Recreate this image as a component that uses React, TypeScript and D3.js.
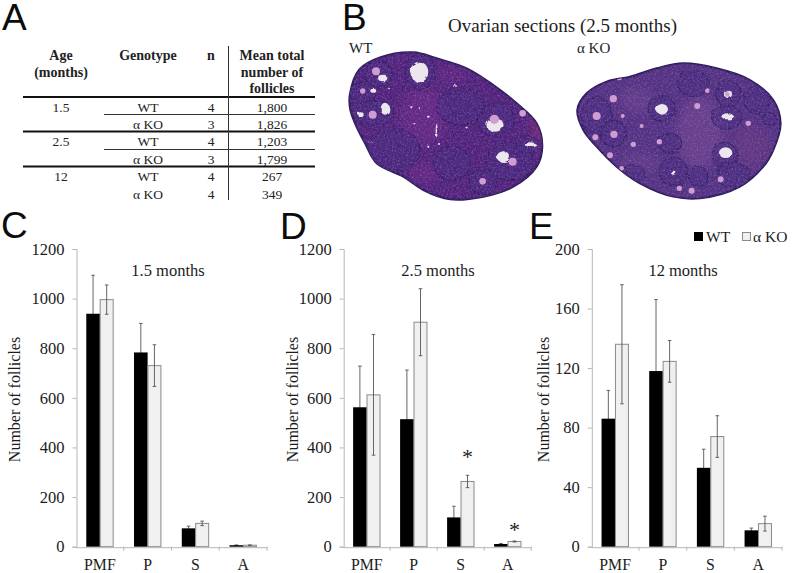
import React, { useEffect, useRef } from "react";
import * as d3 from "d3";

const categories = ["PMF", "P", "S", "A"];
const seriesNames = ["WT", "α KO"];
const wt15 = [939, 783, 74, 6];
const wt15Err = [155, 117, 9, 1];
const ko15 = [996, 730, 94, 6];
const ko15Err = [59, 84, 9, 1];
const wt25 = [562, 514, 118, 11];
const wt25Err = [166, 198, 45, 2];
const ko25 = [612, 905, 263, 21];
const ko25Err = [243, 135, 25, 2];
const wt12 = [86, 118, 53, 11];
const wt12Err = [19, 48, 12.5, 1.5];
const ko12 = [136, 124.5, 74, 15.5];
const ko12Err = [40, 14, 14, 5];
const ticks1200 = [0, 200, 400, 600, 800, 1000, 1200];
const ticks200 = [0, 40, 80, 120, 160, 200];

const tableRows = [
  ["1.5", "WT", "4", "1,800"],
  ["", "α KO", "3", "1,826"],
  ["2.5", "WT", "4", "1,203"],
  ["", "α KO", "3", "1,799"],
  ["12", "WT", "4", "267"],
  ["", "α KO", "4", "349"],
];

// Histology illustration: outlines and features, in a 3x working grid
const wtOutline: [number, number][] = [[30, 280], [58, 208], [120, 172], [220, 157], [290, 175], [380, 205], [460, 255], [530, 310], [590, 370], [607, 440], [590, 500], [520, 560], [430, 590], [330, 598], [250, 570], [190, 530], [110, 490], [75, 430], [45, 370], [30, 325]];
const koOutline: [number, number][] = [[712, 330], [740, 280], [800, 245], [870, 230], [950, 205], [1030, 190], [1130, 205], [1230, 240], [1300, 300], [1322, 370], [1300, 450], [1270, 500], [1200, 560], [1080, 595], [1000, 590], [900, 550], [830, 500], [770, 440], [730, 390]];
const stromaPatches: [number, number, number, number, string][] = [
  [250, 350, 70, 90, "#7a2a8c"], [590, 400, 18, 60, "#9a2a70"], [250, 520, 45, 30, "#7a2a8c"], [330, 225, 50, 25, "#6f2a88"],
  [1080, 400, 70, 110, "#7f5095"], [890, 300, 50, 40, "#75488f"], [1230, 440, 60, 60, "#6f3a80"], [900, 490, 60, 30, "#70468f"],
];
const darkFollicles: [number, number, number, number][] = [
  [240, 215, 45, 52], [115, 222, 42, 36], [70, 280, 40, 34], [100, 340, 60, 38], [468, 360, 55, 50], [510, 485, 70, 55], [430, 545, 42, 38], [335, 490, 55, 50], [160, 450, 80, 65], [360, 320, 70, 55], [565, 435, 38, 25],
  [1165, 282, 38, 38], [1250, 300, 38, 42], [1160, 352, 45, 35], [965, 325, 40, 38], [770, 350, 45, 60], [820, 400, 40, 40], [1155, 465, 38, 38], [1000, 515, 42, 42], [1075, 530, 28, 30], [1180, 525, 50, 38], [1060, 250, 45, 40], [1290, 358, 20, 20], [990, 430, 35, 30], [880, 520, 35, 25],
];
const whiteAntra: [number, number, number, number][] = [
  [238, 216, 27, 31], [128, 234, 14, 10], [135, 326, 13, 18], [62, 344, 9, 7], [100, 272, 9, 6], [465, 375, 26, 20], [490, 470, 20, 16], [570, 433, 18, 6], [290, 392, 3, 20], [265, 350, 4, 3], [240, 325, 3, 3], [215, 322, 4, 3], [265, 440, 3, 3], [340, 437, 3, 2], [220, 368, 3, 2], [380, 382, 4, 2], [300, 435, 3, 3], [90, 425, 5, 2], [150, 268, 3, 2], [345, 258, 7, 2],
  [966, 328, 18, 16], [1163, 349, 18, 9], [1157, 458, 20, 16], [1164, 282, 12, 12], [1000, 518, 8, 6],
];
const pinkOocytes: [number, number, number][] = [
  [108, 214, 12], [98, 344, 12], [463, 358, 14], [518, 485, 12], [428, 544, 10], [548, 340, 10], [68, 273, 8],
  [770, 348, 12], [820, 296, 11], [822, 403, 11], [766, 412, 9], [810, 466, 9], [838, 232, 9], [1072, 318, 9], [958, 425, 8], [1142, 538, 9], [1055, 572, 9], [1018, 565, 8], [1225, 370, 8], [1162, 283, 7], [905, 378, 6], [848, 348, 6], [845, 505, 7], [1102, 272, 7], [880, 433, 8],
];

const w = 797, h = 573;
const serif = "'Liberation Serif', serif";
const sans = "'Liberation Sans', sans-serif";
const AXIS = "#b5b5b5";
const TXT = "#1c1c1c";

function Axes({ x, y, ticks }: any) {
  const yRef = useRef<SVGGElement>(null);
  const xRef = useRef<SVGGElement>(null);
  useEffect(() => {
    const sy = d3.select(yRef.current!);
    sy.call(d3.axisLeft(y).tickValues(ticks).tickSize(4).tickPadding(8).tickFormat(d3.format("d")) as any);
    sy.select(".domain").attr("stroke", AXIS);
    sy.selectAll(".tick line").attr("stroke", AXIS);
    sy.selectAll("text").attr("font-family", serif).attr("font-size", 16.5).attr("fill", TXT);
    const sx = d3.select(xRef.current!);
    sx.call(d3.axisBottom(x).tickSize(0).tickPadding(12) as any);
    sx.select(".domain").attr("stroke", AXIS);
    sx.selectAll("text").attr("font-family", serif).attr("font-size", 15.8).attr("fill", TXT);
  }, []);
  const [x0] = x.range();
  return (
    <g>
      <g ref={yRef} transform={`translate(${x0 + 0.5},0)`} />
      <g ref={xRef} transform={`translate(0,${y(0) + 0.5})`} />
      {categories.map((c, i) => {
        const px = x0 + x.step() * (i + 1);
        return <line key={c} x1={px} x2={px} y1={y(0)} y2={y(0) + 4} stroke={AXIS} />;
      })}
    </g>
  );
}

function Panel({ left, right, max, ticks, wt, wtErr, ko, koErr, title, titleX, yLabelX, stars }: any) {
  const x = d3.scaleBand().domain(categories).range([left, right]).paddingInner(0).paddingOuter(0);
  const y = d3.scaleLinear().domain([0, max]).range([546.7, 249]);
  const barW = 13.6;
  const bars = categories.map((c: string, i: number) => {
    const cx = x(c)! + x.bandwidth() / 2;
    return { c, cx, i };
  });
  const err = (cx: number, v: number, e: number, k: string) => (
    <g key={k} stroke="#555" strokeWidth={0.9}>
      <line x1={cx} x2={cx} y1={y(v + e)} y2={y(Math.max(0, v - e))} />
      <line x1={cx - 1.8} x2={cx + 1.8} y1={y(v + e)} y2={y(v + e)} />
      <line x1={cx - 1.8} x2={cx + 1.8} y1={y(Math.max(0, v - e))} y2={y(Math.max(0, v - e))} />
    </g>
  );
  return (
    <g>
      {bars.map(({ c, cx, i }: any) => (
        <g key={c}>
          {err(cx - barW / 2, wt[i], wtErr[i], c + "w")}
          <rect x={cx - barW} y={y(wt[i])} width={barW} height={y(0) - y(wt[i])} fill="#000" />
          <rect x={cx + 0.3} y={y(ko[i])} width={barW - 0.6} height={y(0) - y(ko[i])} fill="#f0f0f0" stroke="#8a8a8a" strokeWidth={1} />
          {err(cx + barW / 2, ko[i], koErr[i], c + "k")}
        </g>
      ))}
      <Axes x={x} y={y} ticks={ticks} />
      <text x={titleX} y={276} textAnchor="middle" fontFamily={serif} fontSize={16.5} fill={TXT}>{title}</text>
      <text transform={`translate(${yLabelX},399.5) rotate(-90)`} textAnchor="middle" fontFamily={serif} fontSize={16} fill={TXT}>Number of follicles</text>
      {(stars || []).map((s: any) => (
        <text key={s.c} x={x(s.c)! + x.bandwidth() / 2 + barW / 2} y={y(s.v)} textAnchor="middle" fontFamily={serif} fontSize={22} fill={TXT}>*</text>
      ))}
    </g>
  );
}

function Section({ outline, fill, id }: any) {
  const path = d3.line().curve(d3.curveCatmullRomClosed.alpha(0.5))(outline)!;
  return (
    <g>
      <clipPath id={id}><path d={path} /></clipPath>
      <path d={path} fill={fill} stroke="#2e1c5c" strokeWidth={6} />
      <g clipPath={`url(#${id})`}>
        <g filter="url(#soft)" opacity={0.5}>
          {stromaPatches.map(([cx, cy, rx, ry, c], i) => (
            <ellipse key={i} cx={cx} cy={cy} rx={rx} ry={ry} fill={c} />
          ))}
        </g>
        <g filter="url(#rough)">
          {darkFollicles.map(([cx, cy, rx, ry], i) => (
            <ellipse key={i} cx={cx} cy={cy} rx={rx} ry={ry} fill="#43287c90" stroke="#2e1c5c" strokeWidth={4} strokeOpacity={0.75} />
          ))}
        </g>
        <rect x={0} y={100} width={1400} height={520} filter="url(#grain)" opacity={0.5} />
        <rect x={0} y={100} width={1400} height={520} filter="url(#grainLight)" opacity={0.25} />
        <g filter="url(#rough)">
          {whiteAntra.map(([cx, cy, rx, ry], i) => (
            <ellipse key={i} cx={cx} cy={cy} rx={rx} ry={ry} fill="#ebe7ec" />
          ))}
        </g>
        {pinkOocytes.map(([cx, cy, r], i) => (
          <circle key={i} cx={cx} cy={cy} r={r} fill="#cf9dd2" />
        ))}
      </g>
    </g>
  );
}

function Table() {
  const xs = [61, 148, 211, 272];
  const baselines = [112, 129, 146, 164, 181, 199];
  const hdr = { fontFamily: serif, fontSize: 14, fontWeight: 700, fill: "#222", textAnchor: "middle" } as any;
  const cell = { fontFamily: serif, fontSize: 13.5, fill: "#222", textAnchor: "middle" } as any;
  return (
    <g>
      <text x={xs[0]} y={60} {...hdr}>Age</text>
      <text x={xs[0]} y={76.5} {...hdr}>(months)</text>
      <text x={xs[1]} y={60} {...hdr}>Genotype</text>
      <text x={xs[2]} y={60} {...hdr}>n</text>
      <text x={xs[3]} y={60} {...hdr}>Mean total</text>
      <text x={xs[3]} y={77} {...hdr}>number of</text>
      <text x={xs[3]} y={93} {...hdr}>follicles</text>
      {tableRows.map((r, i) => r.map((t, j) => (
        <text key={i + "-" + j} x={xs[j]} y={baselines[i]} {...cell}>{t}</text>
      )))}
      {[97, 131.5, 166.5].map((yy) => <line key={yy} x1={23} x2={315} y1={yy} y2={yy} stroke="#111" strokeWidth={2} />)}
      {[114.5, 149.5].map((yy) => <line key={yy} x1={104} x2={315} y1={yy} y2={yy} stroke="#333" strokeWidth={1} />)}
      <line x1={228.5} x2={228.5} y1={46} y2={200} stroke="#333" strokeWidth={1} />
    </g>
  );
}

export default function App() {
  const letter = (t: string, x: number, y: number) => (
    <text x={x} y={y} fontFamily={sans} fontSize={37} fill="#0c0c0c">{t}</text>
  );
  return (
    <svg width={w} height={h} viewBox={`0 0 ${w} ${h}`} style={{ position: "absolute", left: 0, top: 0, background: "#fff" }}>
      <defs>
        <filter id="grain" x="0" y="0" width="100%" height="100%">
          <feTurbulence type="fractalNoise" baseFrequency="0.14" numOctaves={3} seed={4} />
          <feColorMatrix values="0 0 0 0 0.13  0 0 0 0 0.06  0 0 0 0 0.32  0 0 0 2.6 -1.0" />
        </filter>
        <filter id="grainLight" x="0" y="0" width="100%" height="100%">
          <feTurbulence type="fractalNoise" baseFrequency="0.2" numOctaves={2} seed={11} />
          <feColorMatrix values="0 0 0 0 0.62  0 0 0 0 0.38  0 0 0 0 0.72  0 0 0 3 -1.4" />
        </filter>
        <filter id="soft"><feGaussianBlur stdDeviation={14} /></filter>
        <filter id="rough" x="-5%" y="-5%" width="110%" height="110%">
          <feTurbulence type="fractalNoise" baseFrequency="0.05" numOctaves={2} seed={7} result="n" />
          <feDisplacementMap in="SourceGraphic" in2="n" scale={12} />
        </filter>
      </defs>
      {letter("A", 2, 30)}
      {letter("B", 342, 30)}
      {letter("C", 1, 238)}
      {letter("D", 280, 239)}
      {letter("E", 529, 239)}
      <Table />
      <text x={562.5} y={32} textAnchor="middle" fontFamily={serif} fontSize={19} fill={TXT}>Ovarian sections (2.5 months)</text>
      <text x={349} y={53} fontFamily={serif} fontSize={15} fill={TXT}>{seriesNames[0]}</text>
      <text x={577} y={53} fontFamily={serif} fontSize={15} fill={TXT}>{seriesNames[1]}</text>
      <g transform="translate(340,0) scale(0.3333)">
        <Section outline={wtOutline} fill="#4f1f78" id="wtClip" />
        <Section outline={koOutline} fill="#523080" id="koClip" />
      </g>
      <Panel left={76} right={267} max={1200} ticks={ticks1200} wt={wt15} wtErr={wt15Err} ko={ko15} koErr={ko15Err} title="1.5 months" titleX={168} yLabelX={20} />
      <Panel left={343.2} right={531.2} max={1200} ticks={ticks1200} wt={wt25} wtErr={wt25Err} ko={ko25} koErr={ko25Err} title="2.5 months" titleX={438} yLabelX={298}
        stars={[{ c: "S", v: 332 }, { c: "A", v: 39 }]} />
      <Panel left={591.3} right={782} max={200} ticks={ticks200} wt={wt12} wtErr={wt12Err} ko={ko12} koErr={ko12Err} title="12 months" titleX={683} yLabelX={549} />
      <rect x={694} y={232} width={9} height={9} fill="#000" />
      <text x={706} y={241.5} fontFamily={serif} fontSize={15.5} fill={TXT}>{seriesNames[0]}</text>
      <rect x={742.5} y={232.5} width={8} height={8} fill="#f0f0f0" stroke="#8a8a8a" />
      <text x={753} y={241.5} fontFamily={serif} fontSize={15.5} fill={TXT}>{seriesNames[1]}</text>
    </svg>
  );
}
